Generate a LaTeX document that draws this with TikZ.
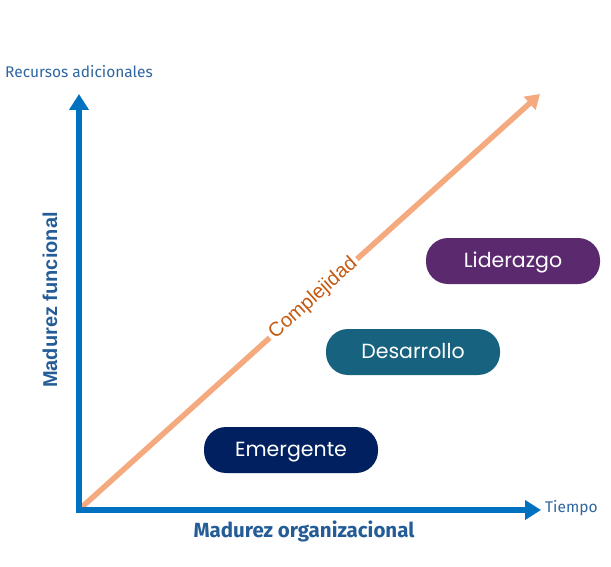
\documentclass[tikz,border=0pt]{standalone}
\usepackage{fontspec}
\setmainfont{Fira Sans}
\newfontfamily\popfont{Poppins}
\newfontfamily\arialfont{Liberation Sans}
\usetikzlibrary{arrows.meta}
\definecolor{axisblue}{HTML}{0070C0}
\definecolor{labelblue}{HTML}{2F66A0}
\definecolor{titleblue}{HTML}{245C97}
\definecolor{salmon}{HTML}{F4A97F}
\definecolor{burnt}{HTML}{C55A11}
\definecolor{navy}{HTML}{002060}
\definecolor{teal}{HTML}{17627F}
\definecolor{plum}{HTML}{5A296E}
\tikzset{
  axisline/.style={draw=axisblue, line width=5.5pt, -{Triangle[length=16pt,width=19pt]}},
  stagebox/.style={rounded corners=22pt, minimum width=174pt, minimum height=46pt, text=white, font=\popfont\fontsize{20.5}{22}\selectfont, inner sep=0pt, text height=12pt, text depth=0pt},
  smalllabel/.style={text=labelblue, font=\fontsize{15.5}{17}\selectfont, inner sep=0pt},
}
\begin{document}
\begin{tikzpicture}[x=1pt,y=-1pt]
\useasboundingbox (0,0) rectangle (611,567);
\coordinate (origin) at (79,510);
\coordinate (ytip) at (79,94);
\coordinate (xtip) at (541,510);
\coordinate (cstart) at (82,507);
\coordinate (ctip) at (540,94);
% complexity arrow
\draw[salmon, line width=5.5pt, -{Triangle[length=14pt,width=17pt]}] (cstart) -- (ctip)
  node[pos=0.505, sloped, fill=white, inner sep=3pt, text=burnt, font=\arialfont\fontsize{20}{22}\selectfont] (cx) {Complejidad};
% axes
\draw[axisline] (79,512.75) -- (ytip);
\draw[axisline] (76.25,510) -- (xtip);
% labels
\node[smalllabel, anchor=west] (ylab) at (5,72) {Recursos adicionales};
\node[smalllabel, anchor=west] (xlab) at (545,508) {Tiempo};
\node[text=titleblue, font=\bfseries\fontsize{20.5}{22}\selectfont] (xtitle) at (304,531) {Madurez organizacional};
\node[text=titleblue, font=\arialfont\bfseries\fontsize{20}{22}\selectfont, rotate=90] (ytitle) at (50,300) {Madurez funcional};
% stages
\node[stagebox, fill=navy] (emer) at (291,450) {Emergente};
\node[stagebox, fill=teal] (desa) at (413,352) {Desarrollo};
\node[stagebox, fill=plum] (lide) at (513,261) {Liderazgo};
\end{tikzpicture}
\end{document}
